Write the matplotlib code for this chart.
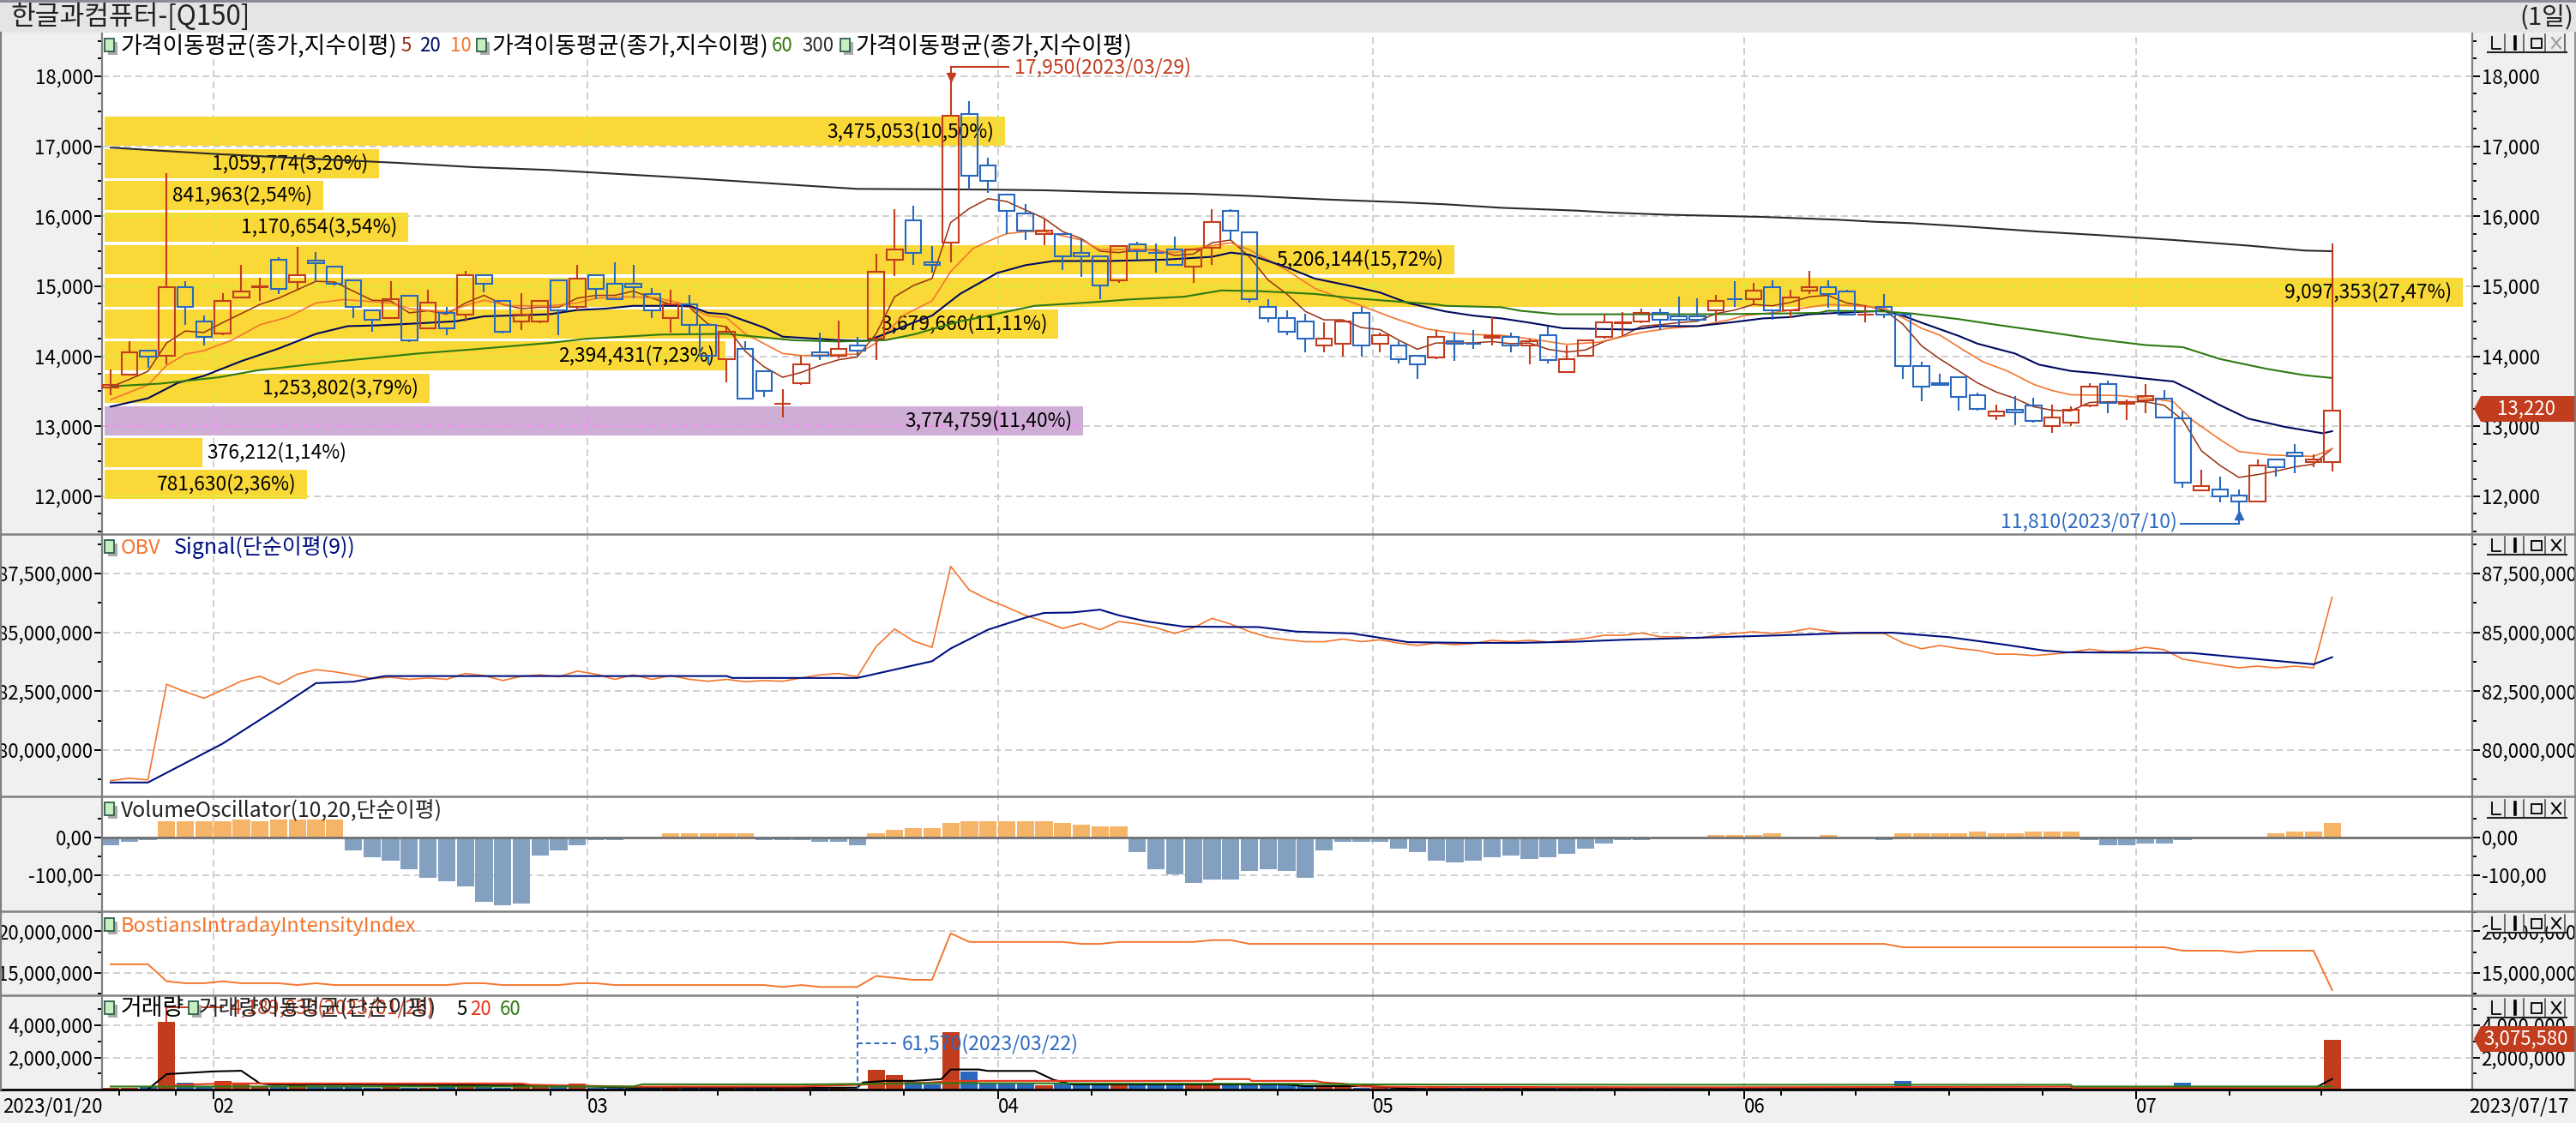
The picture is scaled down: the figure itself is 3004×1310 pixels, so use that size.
import matplotlib
matplotlib.use("Agg")
import matplotlib.pyplot as plt
from matplotlib.patches import Rectangle, Polygon

plt.rcParams['font.family'] = ['Noto Sans CJK KR', 'DejaVu Sans']

# ---------- price candles (open, high, low, close), one row per trading day
candles = [
(13550,13810,13440,13590),(13740,14210,13740,14060),(14080,14080,13830,13990),(14010,16610,13880,14990),
(14990,15070,14450,14700),(14500,14580,14150,14280),(14330,14900,14300,14790),(14840,15300,14840,14920),
(14990,15120,14790,14995),(15380,15410,14890,14960),(15060,15560,14940,15160),(15360,15490,15060,15330),
(15280,15280,15010,15040),(15090,15090,14540,14700),(14650,14650,14350,14520),(14550,15070,14550,14820),
(14870,14870,14200,14230),(14400,14950,14400,14770),(14620,14700,14300,14400),(14600,15220,14500,15160),
(15160,15160,14910,15040),(14790,14790,14320,14350),(14500,14900,14370,14600),(14500,14790,14470,14790),
(15090,15090,14300,14650),(14700,15300,14650,15110),(15160,15160,14810,14960),(15040,15340,14820,14820),
(15040,15300,14830,14990),(14890,14970,14540,14650),(14550,14950,14340,14740),(14740,14880,14300,14450),
(14450,14450,13880,14010),(13960,14430,13630,14350),(14110,14210,13400,13400),(13790,13790,13420,13500),
(13320,13530,13120,13325),(13620,14010,13590,13890),(14050,14340,13950,14010),(14010,14510,13970,14110),
(14160,14280,14000,14080),(14250,15460,13950,15210),(15380,16100,15150,15530),(15940,16150,15300,15480),
(15340,15580,15190,15310),(15620,17950,15340,17440),(17460,17640,16380,16580),(16730,16830,16330,16510),
(16310,16310,15740,16070),(16040,16170,15660,15800),(15750,15970,15590,15800),(15750,15750,15230,15430),
(15480,15680,15130,15430),(15430,15430,14810,15010),(15090,15580,15050,15580),(15600,15630,15380,15500),
(15480,15610,15200,15475),(15530,15710,15310,15310),(15280,15530,15050,15530),(15550,16100,15300,15920),
(16070,16100,15660,15800),(15770,15770,14760,14820),(14700,14810,14490,14550),(14550,14650,14300,14350),
(14500,14610,14050,14250),(14160,14490,14050,14250),(14180,14520,14000,14500),(14620,14700,14000,14160),
(14180,14340,14050,14300),(14160,14210,13900,13960),(14010,14010,13680,13890),(13980,14370,13960,14280),
(14220,14340,13930,14180),(14180,14370,14100,14175),(14270,14560,14150,14290),(14280,14340,14050,14160),
(14160,14250,13880,14210),(14300,14420,13900,13940),(13770,14150,13770,13960),(14010,14230,14010,14230),
(14280,14610,14250,14480),(14475,14630,14300,14480),(14500,14680,14470,14620),(14620,14680,14370,14520),
(14570,14850,14440,14520),(14570,14830,14500,14520),(14650,14880,14500,14790),(14820,15070,14710,14815),
(14820,15050,14740,14940),(14990,15090,14520,14650),(14650,14950,14540,14840),(14940,15220,14890,14990),
(14990,15090,14690,14890),(14920,14950,14600,14600),(14595,14720,14490,14600),(14700,14890,14540,14600),
(14600,14600,13680,13860),(13860,13920,13360,13570),(13620,13750,13590,13590),(13700,13700,13220,13420),
(13450,13480,13220,13250),(13150,13310,13090,13210),(13230,13430,13020,13200),(13300,13410,13050,13080),
(13000,13310,12900,13130),(13050,13280,13000,13230),(13300,13610,13270,13570),(13600,13650,13190,13330),
(13320,13380,13090,13350),(13370,13600,13190,13430),(13400,13520,13120,13120),(13110,13210,12120,12200),
(12090,12380,12070,12150),(12100,12280,11920,12000),(12010,12100,11810,11930),(11930,12520,11930,12440),
(12520,12520,12280,12420),(12620,12750,12330,12570),(12490,12600,12410,12520),(12490,15610,12360,13220),
]

# ---------- moving averages
ma5 = [13560,13670,13785,14190,14360,14340,14480,14610,14740,14830,14950,15070,15060,14930,14800,14790,14620,14650,14600,14760,
       14870,14740,14680,14700,14700,14830,14870,14870,14930,14830,14740,14700,14460,14420,14070,13850,13700,13770,13870,13950,
       13990,14320,14850,15010,15110,15910,16110,16250,16210,16090,15970,15780,15680,15500,15480,15520,15520,15440,15460,15620,
       15660,15420,15090,14890,14640,14520,14520,14410,14380,14230,14100,14190,14190,14190,14210,14180,14190,14100,14060,14090,
       14210,14290,14430,14450,14480,14500,14610,14660,14740,14720,14770,14850,14870,14760,14720,14660,14460,14150,13960,13790,
       13620,13490,13400,13280,13230,13220,13340,13350,13350,13350,13300,13090,12650,12440,12270,12310,12360,12420,12460,12680]
ma10_i = [0,2,3,4,5,6.5,8,9.5,11,12.5,15,16,18,19.2,20,21.5,23.5,25,26,28,29.3,30.5,32,33,34,36,37,40,41,42.5,44,45,46.2,47.5,
          48,49,50,52,53,55,57,59,60,61,63,64.5,67,69,70.5,71.8,73,74.5,76,78,79.7,81,82,83.5,85,86.7,87.5,89,90.5,92,93.5,95,
          96,97,98,99.3,100.3,101.6,103,104,105,107.5,109.5,110.5,111.5,113,114,115.7,118,119]
ma10 = [13380,13590,13870,14030,14080,14230,14450,14560,14760,14810,14760,14680,14630,14740,14800,14720,14720,14760,14830,14850,14830,14760,14580,14550,14320,14040,14010,14030,14190,14590,14790,15210,15540,15700,
        15750,15780,15780,15660,15520,15530,15480,15580,15620,15520,15230,14970,14720,14520,14390,14340,14310,14300,14250,14170,14200,14280,14340,14400,14430,14520,14580,14620,14680,14740,14720,14690,
        14550,14400,14300,14080,13920,13790,13600,13510,13450,13440,13390,13350,13090,12810,12640,12590,12570,12680]
ma20_i = [0,2,3.6,5,7,9,11,12.7,14.2,16.5,18.5,20,23.5,25,26.5,28,31,32,33,35,36,39,40.5,41.7,43,44,45.5,47.5,49,50.5,53.5,56.5,59,60,61,63,64.5,66.5,68,69.5,
          71.5,73,74.5,76,77.8,81.5,83,85,87,88.5,90,91,95,96,97,99,100,102,103.3,105,106.3,109,110.5,111.5,113,114.5,116.5,118.5,119]
ma20 = [13280,13400,13620,13720,13930,14110,14320,14430,14440,14470,14500,14570,14600,14660,14680,14720,14720,14620,14600,14410,14280,14230,14220,14340,14480,14580,14890,15190,15300,15360,15360,15380,15420,15480,15450,15270,15110,15000,14910,14760,
        14640,14580,14540,14480,14400,14380,14430,14430,14490,14540,14560,14600,14650,14580,14480,14290,14180,14040,13880,13790,13760,13680,13640,13510,13300,13110,12990,12900,12930]
ma60_i = [0,2.7,5.8,7.9,11.9,16.5,19.5,23.5,25.5,29.5,33,36.5,39,41.5,43,45.5,46.5,47.7,49.5,52.5,54.5,57.5,59.5,61.5,64.5,66.5,68.5,71,71.5,74.5,75.5,77.5,85.5,89.5,91.5,92,95,96.5,99,101,103.4,106.2,109,111,113,115.5,117.5,119]
ma60 = [13570,13610,13700,13800,13920,14040,14100,14190,14250,14310,14320,14230,14210,14230,14310,14500,14550,14620,14720,14770,14810,14850,14940,14930,14890,14830,14790,14740,14720,14700,14650,14600,14600,14610,14620,14650,14640,14610,14530,14450,14360,14250,14160,14130,13960,13820,13730,13690]
ma300_i = [0,3,5.5,10,15.5,19.5,23.5,30,33,37,40,47,50,54,58,61,65,69,71.5,74.5,78.5,80.5,83.5,88.5,92.5,94.5,96.5,99.5,103.3,106.5,110.5,114.5,117.5,119]
ma300 = [16980,16930,16890,16830,16760,16700,16660,16560,16510,16440,16390,16380,16370,16340,16320,16290,16240,16200,16170,16120,16080,16050,16020,15990,15950,15920,15900,15850,15780,15730,15660,15580,15510,15500]

# ---------- volume by price
vp_price = [17213,16752,16296,15843,15378,14913,14460,14007,13542,13077,12624,12171]
vp_volume = [3475053,1059774,841963,1170654,5206144,9097353,3679660,2394431,1253802,3774759,376212,781630]
vp_label = ['3,475,053(10,50%)','1,059,774(3,20%)','841,963(2,54%)','1,170,654(3,54%)','5,206,144(15,72%)','9,097,353(27,47%)',
            '3,679,660(11,11%)','2,394,431(7,23%)','1,253,802(3,79%)','3,774,759(11,40%)','376,212(1,14%)','781,630(2,36%)']

# ---------- OBV (millions)
obv = [78.70,78.80,78.73,82.79,82.47,82.20,82.55,82.93,83.13,82.79,83.22,83.41,83.32,83.19,83.03,83.09,83.00,83.06,83.00,83.25,
       83.16,82.95,83.13,83.19,83.11,83.35,83.22,83.00,83.19,83.00,83.16,83.00,82.92,83.00,82.90,82.95,82.92,83.06,83.19,83.25,
       83.11,84.39,85.14,84.63,84.36,87.80,86.79,86.39,86.07,85.72,85.46,85.16,85.38,85.11,85.46,85.35,85.19,84.95,85.19,85.59,
       85.35,85.03,84.79,84.68,84.60,84.60,84.71,84.60,84.68,84.54,84.44,84.54,84.47,84.52,84.66,84.60,84.66,84.58,84.66,84.74,
       84.87,84.87,84.97,84.81,84.81,84.74,84.87,84.95,85.02,84.95,85.02,85.16,85.05,84.95,84.95,84.95,84.55,84.30,84.44,84.31,
       84.23,84.07,84.07,84.01,84.07,84.15,84.28,84.18,84.21,84.36,84.26,83.86,83.73,83.60,83.49,83.56,83.49,83.56,83.49,86.49]
sig_i = [0,2,6,9,11,13,14.7,33,33.3,40,44,45,47,49,50,51.5,53,54,55.5,57.5,61.5,63.5,66.5,69.5,72.5,75.5,78.5,81,86,90.7,93.5,95.5,98.5,101.5,103.5,104.7,111.5,115,118,119]
sig = [78.62,78.62,80.27,81.79,82.84,82.90,83.14,83.14,83.06,83.06,83.77,84.31,85.11,85.62,85.82,85.84,85.96,85.72,85.46,85.24,85.22,85.03,84.95,84.58,84.55,84.55,84.60,84.68,84.79,84.90,84.98,84.98,84.79,84.47,84.23,84.15,84.12,83.86,83.64,83.94]

# ---------- volume oscillator
vosc = [-20,-12,-7,43,43,43,43,47,43,47,47,47,47,-34,-52,-62,-84,-107,-116,-130,-171,-180,-175,-48,-34,-21,-7,-7,0,0,
        11,11,11,11,11,-7,-7,-7,-12,-12,-21,11,20,25,25,38,43,43,43,43,43,38,34,29,29,-39,-84,-98,-121,-112,
        -112,-89,-84,-89,-107,-34,-12,-12,-12,-30,-39,-62,-66,-62,-53,-48,-57,-53,-43,-30,-16,-7,-7,0,0,0,7,7,7,11,
        0,0,7,0,0,-7,11,11,11,11,16,11,11,16,16,16,-7,-21,-21,-16,-16,-7,0,0,0,0,11,16,16,38]

# ---------- Bostian intraday intensity (millions)
bii = [16.05,16.05,16.05,14.00,13.77,13.77,14.00,13.77,13.77,13.77,13.55,13.77,13.55,13.55,13.55,13.55,13.55,13.55,13.55,13.77,
       13.77,13.55,13.55,13.55,13.55,13.77,13.77,13.55,13.55,13.55,13.55,13.55,13.55,13.55,13.55,13.55,13.32,13.55,13.32,13.32,
       13.32,14.64,14.41,14.18,14.18,19.77,18.73,18.73,18.73,18.73,18.73,18.73,18.50,18.50,18.73,18.73,18.73,18.73,18.73,18.95,
       18.95,18.50,18.50,18.50,18.50,18.50,18.50,18.50,18.50,18.50,18.50,18.50,18.50,18.50,18.50,18.50,18.50,18.50,18.50,18.50,
       18.50,18.50,18.50,18.50,18.50,18.50,18.50,18.50,18.50,18.50,18.50,18.50,18.50,18.50,18.50,18.50,18.09,18.09,18.09,18.09,
       18.09,18.09,18.09,18.09,18.09,18.09,18.09,18.09,18.09,18.09,18.09,17.68,17.68,17.68,17.45,17.68,17.68,17.68,17.68,12.95]

# ---------- traded volume (millions)
vol = [0.10,0.10,0.15,4.20,0.42,0.20,0.54,0.38,0.20,0.15,0.25,0.20,0.20,0.15,0.12,0.15,0.12,0.12,0.15,0.38,
       0.15,0.12,0.30,0.25,0.15,0.35,0.12,0.12,0.10,0.10,0.12,0.12,0.10,0.10,0.10,0.12,0.20,0.20,0.10,0.15,
       0.06,1.21,0.89,0.47,0.30,3.56,1.10,0.40,0.40,0.40,0.26,0.37,0.26,0.26,0.26,0.26,0.26,0.26,0.26,0.26,
       0.26,0.26,0.26,0.26,0.26,0.19,0.19,0.12,0.15,0.15,0.10,0.15,0.12,0.12,0.12,0.12,0.12,0.10,0.10,0.12,
       0.10,0.10,0.12,0.12,0.12,0.12,0.10,0.10,0.12,0.12,0.10,0.10,0.10,0.10,0.10,0.10,0.54,0.12,0.12,0.12,
       0.12,0.10,0.10,0.10,0.10,0.10,0.10,0.10,0.10,0.10,0.10,0.42,0.10,0.10,0.10,0.10,0.10,0.10,0.12,3.08]
vm5_i = [2,3,5.5,7,8,8.7,13.5,22,24,28,40,40.3,41.5,43,44.5,45,46.5,47,49.5,50.5,51.5,63,64,67.5,70,77,118,119]
vm5 = [0.02,0.96,1.13,1.17,0.38,0.30,0.30,0.25,0.25,0.12,0.12,0.44,0.54,0.54,0.65,1.25,1.25,1.16,1.16,0.61,0.32,0.32,0.21,0.21,0.03,0.03,0.05,0.66]
vm20_i = [3,6,22,22.5,28,37,44,45,59,59.1,61,61.1,64.5,65,66,67,69,86,105,105.1,119]
vm20 = [0.26,0.38,0.38,0.30,0.18,0.19,0.44,0.54,0.54,0.65,0.65,0.54,0.54,0.44,0.37,0.20,0.17,0.14,0.18,0.10,0.10]
vm60_i = [0,28,28.5,37,45,63,67.5,86,105,105.1,119]
vm60 = [0.19,0.19,0.33,0.32,0.40,0.36,0.32,0.30,0.30,0.19,0.19]

# ---------- axis labels
month_pos = [5.5,25.55,47.55,67.6,87.5,108.5]
month_lab = ['02','03','04','05','06','07']
week_pos = [0.46,3.48,8.5,13.5,18.5,23.55,27.56,32.5,37.5,42.5,52.55,57.6,62.5,70.5,75.6,80.55,85.6,89.5,93.5,98.5,103.5,113.5,118.4]
price_ticks = [12000,13000,14000,15000,16000,17000,18000]
price_minor = [11500+250*k for k in range(29)]
obv_ticks = [80,82.5,85,87.5]
obv_labels = ['80,000,000','82,500,000','85,000,000','87,500,000']
obv_minor = [78.75,81.25,83.75,86.25,88.75]
vo_ticks = [0,-100]
vo_labels = ['0,00','-100,00']
vo_minor = [50,-50,-150]
bi_ticks = [15,20]
bi_labels = ['15,000,000','20,000,000']
bi_minor = [12.5,17.5,22.3]
vl_ticks = [2,4]
vl_labels = ['2,000,000','4,000,000']
vl_minor = [1,3,5]

RED, BLUE = '#c23c1e', '#2a68bd'
BROWN, ORANGE, NAVY, GREEN, DARK = '#98300f', '#f4762e', '#000a5e', '#2e7a12', '#2b2b2b'
GRID = '#d0d0d0'
W, H = 3004, 1310
LS = (0, (4, 2.5))
FS = 16

fig = plt.figure(figsize=(W/100, H/100), dpi=100, facecolor='#f0f0f0')
XL, XR = 119, 2883
PITCH = 21.77
xlim = ((XL-129)/PITCH, (XR-129)/PITCH)
n = len(candles)
xs = list(range(n))

def panel(top, bottom, ylim, ticks, labels, minor):
    ax = fig.add_axes([XL/W, 1-bottom/H, (XR-XL)/W, (bottom-top)/H])
    ax.set_xlim(*xlim); ax.set_ylim(*ylim)
    ax.set_facecolor('white')
    for s in ('top', 'bottom'):
        ax.spines[s].set_visible(False)
    for s in ('left', 'right'):
        ax.spines[s].set_color('#808080'); ax.spines[s].set_linewidth(1.6)
    ax.set_yticks(ticks); ax.set_yticklabels(labels)
    ax.set_yticks(minor, minor=True)
    ax.tick_params(axis='y', which='major', left=True, right=True, labelleft=True, labelright=True,
                   length=6.4, width=1.4, labelsize=FS, pad=1.2, color='black')
    ax.tick_params(axis='y', which='minor', left=True, right=True, length=3.4, width=1.4, color='black')
    ax.set_xticks([])
    for t in ticks:
        ax.axhline(t, color=GRID, lw=1.44, ls=LS, zorder=0.5)
    for m in month_pos:
        ax.axvline(m, color=GRID, lw=1.44, ls=LS, zorder=0.5)
    return ax

# ---- main price panel
ax1 = panel(38, 623, (11461, 18622), price_ticks, [f'{t:,}' for t in price_ticks], price_minor)
scale = 2750/PITCH/9097353
for k, (p, v, lab_) in enumerate(zip(vp_price, vp_volume, vp_label)):
    purple = (k == 9)
    bar = ax1.barh(p, v*scale, height=416, left=-0.32, color='#cfaed6' if purple else '#fad837', zorder=1)[0]
    tint = '#f090f0' if purple else '#d5f03c'
    for t in price_ticks:
        ax1.axhline(t, color=tint, lw=1.44, ls=LS, zorder=1.2).set_clip_path(bar)
    for m in month_pos:
        ax1.axvline(m, color=tint, lw=1.44, ls=LS, zorder=1.2).set_clip_path(bar)
    end = -0.32 + v*scale
    if k == 10:
        ax1.text(end+0.25, p, lab_, ha='left', va='center', fontsize=16.4, color='black', zorder=1.5)
    else:
        ax1.text(end-0.58, p, lab_, ha='right', va='center', fontsize=16.4, color='black', zorder=1.5)

ax1.plot(xs, ma5, color=BROWN, lw=1.1, zorder=3)
ax1.plot(ma10_i, ma10, color=ORANGE, lw=1.2, zorder=3)
ax1.plot(ma20_i, ma20, color=NAVY, lw=1.5, zorder=3)
ax1.plot(ma60_i, ma60, color=GREEN, lw=1.5, zorder=3)
ax1.plot(ma300_i, ma300, color=DARK, lw=1.5, zorder=3)

for i, (o, h, l, c) in enumerate(candles):
    col = RED if c >= o else BLUE
    top, bot = max(o, c), min(o, c)
    ax1.vlines(i, top, h, color=col, lw=1.5, zorder=4)
    ax1.vlines(i, l, bot, color=col, lw=1.5, zorder=4)
    ax1.bar(i, top-bot, bottom=bot, width=0.85, facecolor='none', edgecolor=col, lw=1.5, zorder=4)

# high / low markers
ax1.plot([45, 45], [18128, 17950], color=RED, lw=1.5, zorder=5)
ax1.plot([45, 48.1], [18128, 18128], color=RED, lw=1.5, zorder=5)
ax1.plot([45], [17990], marker='v', ms=7, color=RED, zorder=5)
ax1.text(48.4, 18128, '17,950(2023/03/29)', color=RED, fontsize=16.6, ha='left', va='center', zorder=5)
ax1.plot([114, 114], [11810, 11612], color=BLUE, lw=1.5, zorder=5)
ax1.plot([110.9, 114], [11612, 11612], color=BLUE, lw=1.5, zorder=5)
ax1.plot([114], [11735], marker='^', ms=7, color=BLUE, zorder=5)
ax1.text(110.7, 11636, '11,810(2023/07/10)', color=BLUE, fontsize=16.6, ha='right', va='center', zorder=5)

# ---- OBV
ax2 = panel(623, 929, (78.03, 89.17), obv_ticks, obv_labels, obv_minor)
ax2.plot(xs, obv, color=ORANGE, lw=1.2, zorder=3)
ax2.plot(sig_i, sig, color='#00107f', lw=1.5, zorder=3.5)

# ---- volume oscillator
ax3 = panel(929, 1063, (-195.5, 109), vo_ticks, vo_labels, vo_minor)
ax3.bar(xs, vosc, width=0.93, color=['#f5b468' if v > 0 else '#84a0c0' for v in vosc], zorder=2)
ax3.axhline(0, color='#707070', lw=2.0, zorder=3)

# ---- Bostian
ax4 = panel(1063, 1161, (12.32, 22.42), bi_ticks, bi_labels, bi_minor)
ax4.plot(xs, bii, color=ORANGE, lw=1.4, zorder=3)

# ---- volume
ax5 = panel(1161, 1271, (0, 5.87), vl_ticks, vl_labels, vl_minor)
ax5.bar(xs, vol, width=0.92, color=[RED if c[3] >= c[0] else BLUE for c in candles], zorder=2)
ax5.plot(vm5_i, vm5, color='black', lw=1.5, zorder=3)
ax5.plot(vm20_i, vm20, color='#e8361a', lw=1.5, zorder=3)
ax5.plot(vm60_i, vm60, color=GREEN, lw=1.5, zorder=3)
ax5.axvline(40, color=BLUE, lw=1.4, ls=(0, (3, 2)), zorder=4)
ax5.plot([40, 42.1], [2.87, 2.87], color=BLUE, lw=1.4, ls=(0, (3, 2)), zorder=4)
ax5.text(42.4, 2.87, '61,570(2023/03/22)', color=BLUE, fontsize=16.6, ha='left', va='center', zorder=5)
ax5.plot([3, 3], [4.2, 5.1], color=RED, lw=1.4, zorder=4)
ax5.plot([3, 6], [5.1, 5.1], color=RED, lw=1.4, zorder=4)
ax5.text(6.4, 5.1, '4,189,030(2023/01/26)', color=RED, fontsize=16.6, ha='left', va='center', zorder=5)
ax5.set_xticks(month_pos); ax5.set_xticklabels(month_lab)
ax5.set_xticks(week_pos, minor=True)
ax5.tick_params(axis='x', which='major', bottom=True, length=7.7, width=1.4, labelsize=FS, pad=-1.5, color='black')
ax5.tick_params(axis='x', which='minor', bottom=True, length=4.8, width=1.4, color='black')
for t in ax5.get_xticklabels():
    t.set_ha('left')

# ---- window chrome and legends, in pixel space
ov = fig.add_axes([0, 0, 1, 1], zorder=10)
ov.set_xlim(0, W); ov.set_ylim(H, 0); ov.axis('off'); ov.patch.set_alpha(0)
ov.add_patch(Rectangle((0, 0), W, 38, color='#e5e5e5', lw=0))
ov.add_patch(Rectangle((0, 0), W, 3, color='#8a8d98', lw=0))
for y in (623, 929, 1063, 1161):
    ov.plot([0, W], [y, y], color='#808080', lw=1.8)
ov.plot([0, W], [1271, 1271], color='black', lw=2.0)
ov.plot([1, 1], [38, 1271], color='#808080', lw=1.6)
ov.plot([W-1, W-1], [38, 1271], color='#808080', lw=1.2)
ov.text(12, 20, '한글과컴퓨터-[Q150]', fontsize=22.5, color='#222222', ha='left', va='center')
ov.text(3001, 20, '(1일)', fontsize=21, color='#222222', ha='right', va='center')
ov.text(3, 1291, '2023/01/20', fontsize=FS, ha='left', va='center', color='black')
ov.text(2996, 1291, '2023/07/17', fontsize=FS, ha='right', va='center', color='black')

def icon(x, y):
    ov.add_patch(Rectangle((x+4, y+4), 11, 15, color='#aaaaaa', lw=0))
    ov.add_patch(Rectangle((x, y), 11, 15, facecolor='#c6eec0', edgecolor='#2f5f4c', lw=1.3))

HG = 19.4
def lab(x, y, s, c='black', fs=HG):
    ov.text(x, y, s, color=c, fontsize=fs, ha='left', va='center')

y = 54
icon(122, 45); lab(141, y, '가격이동평균(종가,지수이평)'); lab(467, y, '5', BROWN, FS); lab(489, y, '20', NAVY, FS); lab(525, y, '10', ORANGE, FS)
icon(556, 45); lab(574, y, '가격이동평균(종가,지수이평)'); lab(900, y, '60', GREEN, FS); lab(935, y, '300', DARK, FS)
icon(980, 45); lab(998, y, '가격이동평균(종가,지수이평)')
y = 639
icon(122, 630); lab(141, y, 'OBV', ORANGE, 17); lab(203, y, 'Signal(단순이평(9))', '#00107f', 18)
y = 946
icon(122, 936); lab(141, y, 'VolumeOscillator(10,20,단순이평)', '#222222', 17.8)
y = 1080
icon(122, 1071); lab(141, y, 'BostiansIntradayIntensityIndex', ORANGE, 17)
y = 1177
lab(141, y, '거래량'); icon(122, 1168); icon(220, 1168)
lab(232, y, '거래량이동평균(단순이평)', '#222222', 18.5)
lab(532, y, '5', 'black', FS); lab(548, y, '20', '#e8361a', FS); lab(583, y, '60', GREEN, FS)

def buttons(y0, h, last='black'):
    for k, x in enumerate((2901, 2923, 2948, 2971)):
        ov.add_patch(Rectangle((x, y0), 20, h, facecolor='#ececec', edgecolor='none'))
        ov.plot([x+20, x+20], [y0, y0+h], color='#555555', lw=1.2)
        if k == 0:
            ov.plot([x+5, x+5, x+15], [y0+3, y0+h-4, y0+h-4], color='black', lw=1.3)
        elif k == 1:
            ov.plot([x+10, x+10], [y0+3, y0+h-4], color='black', lw=2.6)
        elif k == 2:
            ov.add_patch(Rectangle((x+4, y0+5), 12, h-10, facecolor='none', edgecolor='black', lw=1.3))
        else:
            ov.plot([x+5, x+15], [y0+4, y0+h-5], color=last, lw=1.4)
            ov.plot([x+15, x+5], [y0+4, y0+h-5], color=last, lw=1.4)
    ov.plot([2901, 2993], [y0+h, y0+h], color='#222222', lw=1.5)

for y0, h, c in ((40, 21, '#999999'), (626, 21, 'black'), (933, 21, 'black'), (1067, 21, 'black'), (1165, 22, 'black')):
    buttons(y0, h, c)

def tag(y0, y1, s):
    ym = (y0+y1)/2
    ov.add_patch(Polygon([(2885, ym), (2893, y0), (W, y0), (W, y1), (2893, y1)], closed=True, color=RED, lw=0))
    ov.text(2946, ym, s, color='white', fontsize=FS, ha='center', va='center')
tag(462, 492, '13,220')
tag(1197, 1227, '3,075,580')

fig.savefig('out.png', dpi=100, facecolor=fig.get_facecolor())
